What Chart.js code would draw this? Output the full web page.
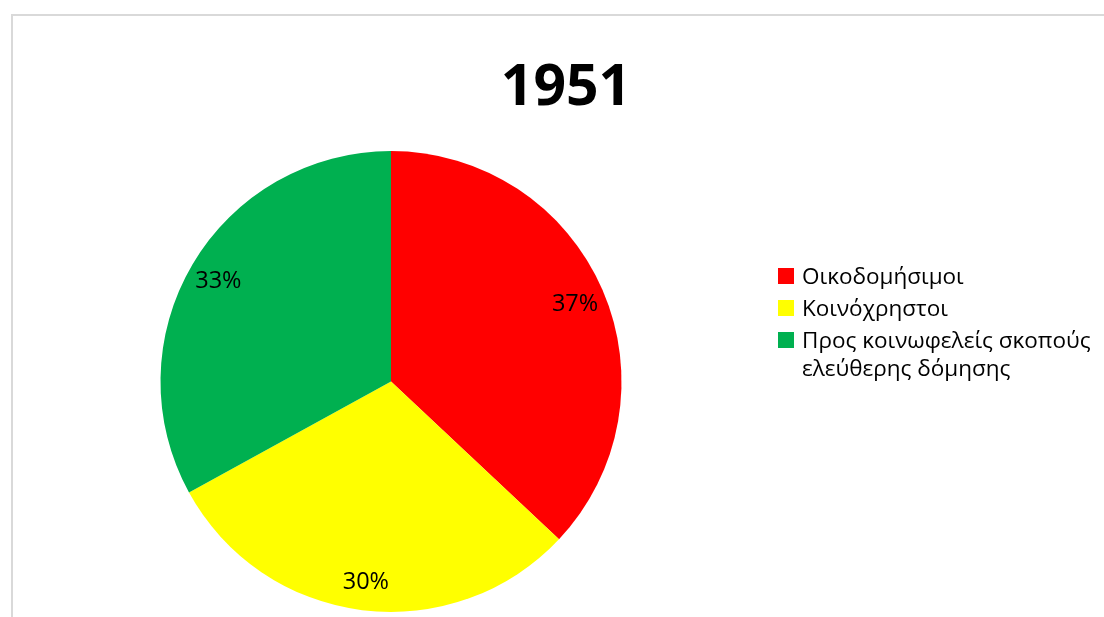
<!DOCTYPE html>
<html>
<head>
<meta charset="utf-8">
<script src="https://cdn.jsdelivr.net/npm/chart.js@4"></script>
<style>
  html, body { margin: 0; padding: 0; background: #fff; }
  body { width: 1104px; height: 617px; position: relative; overflow: hidden; font-family: "Open Sans", "Noto Sans", sans-serif; }
  #frame { position: absolute; left: 11px; top: 14px; width: 1200px; height: 700px; border-left: 2px solid #d9d9d9; border-top: 2px solid #d9d9d9; box-sizing: border-box; }
  #c { position: absolute; left: 0; top: 0; }
  #title { position: absolute; left: 366px; width: 400px; top: 43px; text-align: center; font-family: "Open Sans", sans-serif; font-weight: bold; font-size: 57px; line-height: 80px; color: #000; }
  #legend { position: absolute; left: 778px; top: 262px; }
  .item { display: flex; align-items: flex-start; margin-bottom: 4px; }
  .box { width: 16px; height: 16px; margin-top: 6px; margin-right: 8px; flex: none; }
  .txt { font-size: 22.5px; line-height: 28px; color: #000; white-space: nowrap; }
</style>
</head>
<body>
<div id="frame"></div>
<canvas id="c" width="1104" height="617"></canvas>
<div id="title"></div>
<div id="legend"></div>
<script>
const chartTitle = "1951";
const categories = ["Οικοδομήσιμοι", "Κοινόχρηστοι", ["Προς κοινωφελείς σκοπούς", "ελεύθερης δόμησης"]];
const values = [37, 30, 33];
const colors = ["#FF0000", "#FFFF00", "#00B050"];

document.getElementById('title').textContent = chartTitle;
const legend = document.getElementById('legend');
categories.forEach((cat, i) => {
  const item = document.createElement('div');
  item.className = 'item';
  const box = document.createElement('div');
  box.className = 'box';
  box.style.background = colors[i];
  const txt = document.createElement('div');
  txt.className = 'txt';
  const lines = Array.isArray(cat) ? cat : [cat];
  lines.forEach((l, j) => {
    if (j > 0) txt.appendChild(document.createElement('br'));
    txt.appendChild(document.createTextNode(l));
  });
  item.appendChild(box);
  item.appendChild(txt);
  legend.appendChild(item);
});

const pctLabels = {
  id: 'pctLabels',
  afterDatasetsDraw(chart) {
    const ctx = chart.ctx;
    const meta = chart.getDatasetMeta(0);
    const data = chart.data.datasets[0].data;
    const total = data.reduce((a, b) => a + b, 0);
    ctx.save();
    ctx.font = '23.5px "Open Sans", sans-serif';
    ctx.fillStyle = '#000';
    ctx.textAlign = 'center';
    ctx.textBaseline = 'middle';
    meta.data.forEach((arc, i) => {
      const p = arc.getProps(['x', 'y', 'startAngle', 'endAngle', 'outerRadius'], true);
      const mid = (p.startAngle + p.endAngle) / 2;
      const r = p.outerRadius * 0.87;
      const pct = Math.round(data[i] / total * 100) + '%';
      ctx.fillText(pct, p.x + Math.cos(mid) * r, p.y + Math.sin(mid) * r + 2);
    });
    ctx.restore();
  }
};

new Chart(document.getElementById('c'), {
  type: 'pie',
  data: {
    labels: categories,
    datasets: [{
      data: values,
      backgroundColor: colors,
      borderWidth: 0
    }]
  },
  options: {
    responsive: false,
    animation: false,
    layout: { padding: { left: 160.5, right: 482.5, top: 151, bottom: 5 } },
    plugins: {
      legend: { display: false },
      title: { display: false },
      tooltip: { enabled: false }
    }
  },
  plugins: [pctLabels]
});
</script>
</body>
</html>
